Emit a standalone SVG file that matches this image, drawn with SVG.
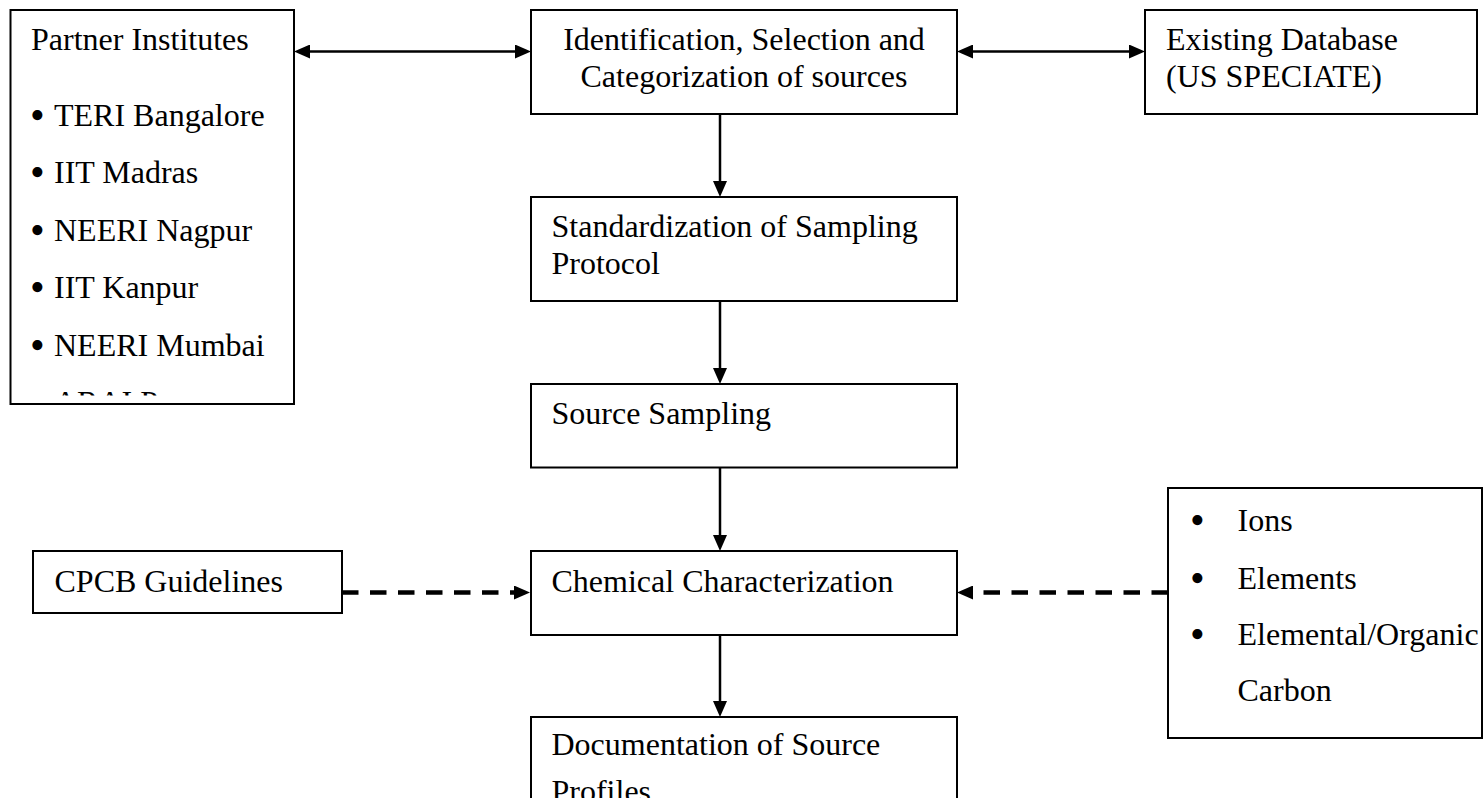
<svg xmlns="http://www.w3.org/2000/svg" width="1484" height="798" viewBox="0 0 1484 798">
<defs>
<style>
.box{fill:#fff;stroke:#000;stroke-width:2}
.t{font-family:"Liberation Serif","Times New Roman",serif;font-size:32px;fill:#000}
.b{font-family:"Liberation Serif","Times New Roman",serif;font-size:42px;fill:#000}
.c{text-anchor:middle}
.solid{stroke:#000;stroke-width:2.5;fill:none}
.dash{stroke:#000;stroke-width:4.5;fill:none;stroke-dasharray:16.5 11.5}
</style>
<marker id="ah" viewBox="0 0 16 14" refX="8" refY="7" markerWidth="16" markerHeight="14" markerUnits="userSpaceOnUse" orient="auto-start-reverse">
<path d="M0,0 L16,7 L0,14 z" fill="#000"/>
</marker>
<clipPath id="pclip"><rect x="0" y="0" width="300" height="395.5"/></clipPath>
</defs>
<rect x="0" y="0" width="1484" height="798" fill="#fff"/>

<g id="connectors">
<line class="solid" x1="302" y1="51.5" x2="523" y2="51.5" marker-start="url(#ah)" marker-end="url(#ah)"/>
<line class="solid" x1="965" y1="51.5" x2="1137" y2="51.5" marker-start="url(#ah)" marker-end="url(#ah)"/>
<line class="solid" x1="720" y1="114" x2="720" y2="189" marker-end="url(#ah)"/>
<line class="solid" x1="720" y1="301" x2="720" y2="376" marker-end="url(#ah)"/>
<line class="solid" x1="720" y1="467.5" x2="720" y2="543" marker-end="url(#ah)"/>
<line class="solid" x1="720" y1="635" x2="720" y2="709" marker-end="url(#ah)"/>
<line class="dash" x1="342" y1="592.5" x2="522" y2="592.5" marker-end="url(#ah)"/>
<line class="dash" x1="1168" y1="592.5" x2="965" y2="592.5" marker-end="url(#ah)"/>
</g>

<g id="partner">
<rect class="box" x="10.5" y="10" width="283.5" height="394"/>
<g clip-path="url(#pclip)">
<text class="t" x="31" y="50">Partner Institutes</text>
<text class="b" x="30" y="129">•</text><text class="t" x="54" y="126">TERI Bangalore</text>
<text class="b" x="30" y="186.4">•</text><text class="t" x="54" y="183.4">IIT Madras</text>
<text class="b" x="30" y="243.8">•</text><text class="t" x="54" y="240.8">NEERI Nagpur</text>
<text class="b" x="30" y="301.2">•</text><text class="t" x="54" y="298.2">IIT Kanpur</text>
<text class="b" x="30" y="358.6">•</text><text class="t" x="54" y="355.6">NEERI Mumbai</text>
<text class="b" x="30" y="416">•</text><text class="t" x="54" y="413">ARAI Pune</text>
</g>
</g>

<g id="identification">
<rect class="box" x="531" y="10" width="426" height="104"/>
<text class="t c" x="744" y="50">Identification, Selection and</text>
<text class="t c" x="744" y="86.8">Categorization of sources</text>
</g>

<g id="database">
<rect class="box" x="1145" y="10" width="332" height="104"/>
<text class="t" x="1166" y="50">Existing Database</text>
<text class="t" x="1166" y="86.8">(US SPECIATE)</text>
</g>

<g id="standardization">
<rect class="box" x="531" y="197" width="426" height="104"/>
<text class="t" x="551.5" y="237">Standardization of Sampling</text>
<text class="t" x="551.5" y="274">Protocol</text>
</g>

<g id="sampling">
<rect class="box" x="531" y="384" width="426" height="83.5"/>
<text class="t" x="551.5" y="424.3">Source Sampling</text>
</g>

<g id="chemical">
<rect class="box" x="531" y="551" width="426" height="84"/>
<text class="t" x="551.5" y="591.7">Chemical Characterization</text>
</g>

<g id="cpcb">
<rect class="box" x="33" y="551" width="309" height="62"/>
<text class="t" x="54.5" y="591.7">CPCB Guidelines</text>
</g>

<g id="species">
<rect class="box" x="1168" y="488" width="314" height="250"/>
<text class="b" x="1190" y="534">•</text><text class="t" x="1237.5" y="531">Ions</text>
<text class="b" x="1190" y="592">•</text><text class="t" x="1237.5" y="589">Elements</text>
<text class="b" x="1190" y="648">•</text><text class="t" x="1237.5" y="645">Elemental/Organic</text>
<text class="t" x="1237.5" y="701">Carbon</text>
</g>

<g id="documentation">
<rect class="box" x="531" y="717" width="426" height="110"/>
<text class="t" x="551.5" y="755">Documentation of Source</text>
<text class="t" x="551.5" y="802">Profiles</text>
</g>
</svg>
